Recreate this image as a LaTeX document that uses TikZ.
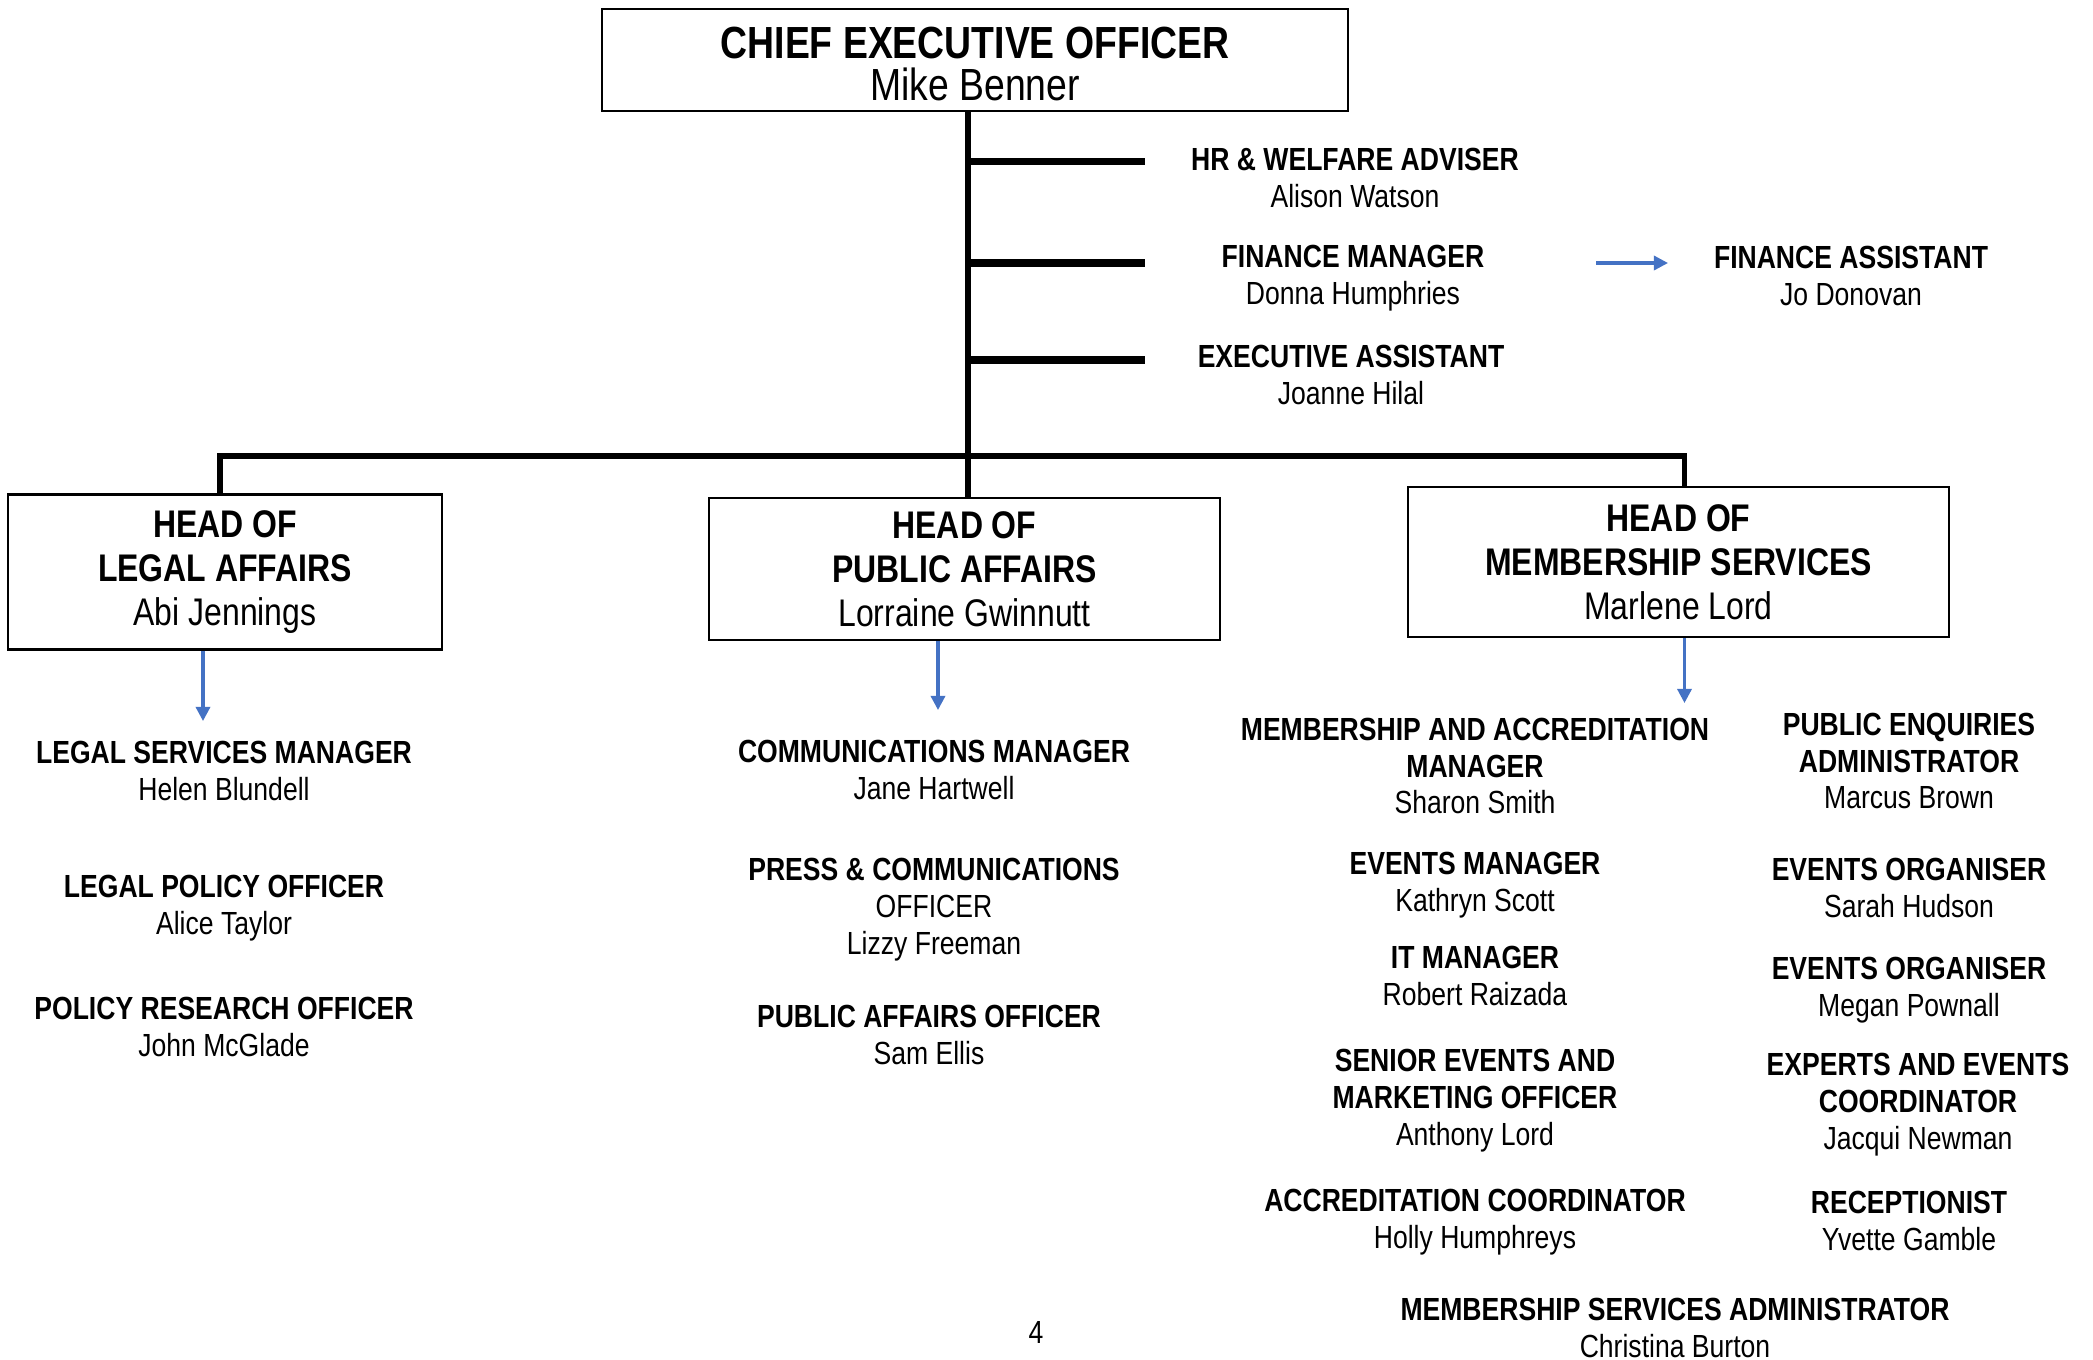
\documentclass[tikz,border=0pt]{standalone}
\usepackage{fontspec}
\setmainfont{Liberation Sans}[FakeStretch=0.83]
\usetikzlibrary{arrows.meta}
\definecolor{arrowblue}{RGB}{68,114,196}

\begin{document}
\begin{tikzpicture}[x=0.01cm, y=-0.01cm, >={Triangle[length=4pt,width=4pt]},
    box/.style={draw, line width=0.6pt, inner sep=0pt, align=center},
    headtext/.style={font=\fontsize{10.95}{12.5}\selectfont},
    post/.style={align=center, inner sep=0pt, font=\fontsize{9.1}{10.5}\selectfont},
    link/.style={line width=1.5pt},
    branch/.style={line width=2pt},
    bluearrow/.style={->, draw=arrowblue, line width=0.9pt}]
        \useasboundingbox (0,0) rectangle (2093,1360);
        % Nodes
        \node[box, minimum width=7.46cm, minimum height=1.02cm, font=\fontsize{12.8}{12.2}\selectfont] (ceo) at (975,60) {};
        \node[align=center, inner sep=0pt, font=\fontsize{12.8}{12.2}\selectfont] (ceotext) at (975,64) {\textbf{CHIEF EXECUTIVE OFFICER}\\Mike Benner};
        \node[post] (hr) at (1355,178) {\textbf{HR \& WELFARE ADVISER}\\Alison Watson};
        \node[post] (fm) at (1353,278) {\textbf{FINANCE MANAGER}\\Donna Humphries};
        \node[post] (fa) at (1851,276) {\textbf{FINANCE ASSISTANT}\\Jo Donovan};
        \node[post] (ea) at (1351,375) {\textbf{EXECUTIVE ASSISTANT}\\Joanne Hilal};
        \node[box, headtext, minimum width=4.34cm, minimum height=1.55cm] (legal) at (225,572) {\textbf{HEAD OF}\\\textbf{LEGAL AFFAIRS}\\Abi Jennings};
        \node[box, headtext, minimum width=5.11cm, minimum height=1.425cm] (public) at (964.5,569) {\textbf{HEAD OF}\\\textbf{PUBLIC AFFAIRS}\\Lorraine Gwinnutt};
        \node[box, headtext, minimum width=5.41cm, minimum height=1.5cm] (members) at (1678.5,562) {\textbf{HEAD OF}\\\textbf{MEMBERSHIP SERVICES}\\Marlene Lord};
        % legal affairs
        \node[post] (lsm) at (224,771) {\textbf{LEGAL SERVICES MANAGER}\\Helen Blundell};
        \node[post] (lpo) at (224,908) {\textbf{LEGAL POLICY OFFICER}\\Alice Taylor};
        \node[post] (pro) at (224,1027) {\textbf{POLICY RESEARCH OFFICER}\\John McGlade};
        % public affairs
        \node[post] (cm) at (934,770) {\textbf{COMMUNICATIONS MANAGER}\\Jane Hartwell};
        \node[post] (pco) at (934,910) {\textbf{PRESS \& COMMUNICATIONS}\\OFFICER\\Lizzy Freeman};
        \node[post] (pao) at (929,1035) {\textbf{PUBLIC AFFAIRS OFFICER}\\Sam Ellis};
        % membership services
        \node[post] (mam) at (1475,766) {\textbf{MEMBERSHIP AND ACCREDITATION}\\\textbf{MANAGER}\\Sharon Smith};
        \node[post] (evm) at (1475,885) {\textbf{EVENTS MANAGER}\\Kathryn Scott};
        \node[post] (itm) at (1475,976) {\textbf{IT MANAGER}\\Robert Raizada};
        \node[post] (semo) at (1475,1101) {\textbf{SENIOR EVENTS AND}\\\textbf{MARKETING OFFICER}\\Anthony Lord};
        \node[post] (acc) at (1475,1222) {\textbf{ACCREDITATION COORDINATOR}\\Holly Humphreys};
        \node[post] (pea) at (1909,761) {\textbf{PUBLIC ENQUIRIES}\\\textbf{ADMINISTRATOR}\\Marcus Brown};
        \node[post] (eoa) at (1909,888) {\textbf{EVENTS ORGANISER}\\Sarah Hudson};
        \node[post] (eob) at (1909,990) {\textbf{EVENTS ORGANISER}\\Megan Pownall};
        \node[post] (eec) at (1918,1105) {\textbf{EXPERTS AND EVENTS}\\\textbf{COORDINATOR}\\Jacqui Newman};
        \node[post] (rec) at (1909,1221) {\textbf{RECEPTIONIST}\\Yvette Gamble};
        \node[post] (msa) at (1675,1328) {\textbf{MEMBERSHIP SERVICES ADMINISTRATOR}\\Christina Burton};
        \node[post] (page) at (1036,1332) {4};
        % Coordinates
        \coordinate (trunk) at (968,456);
        \coordinate (legaldrop) at (220,456);
        \coordinate (membersdrop) at (1684.5,456);
        \coordinate (hrend) at (1145,161.5);
        \coordinate (fmend) at (1145,263);
        \coordinate (eaend) at (1145,360);
        \coordinate (fastart) at (1596,263);
        \coordinate (faend) at (1668,263);
        \coordinate (legaltip) at (203,721);
        \coordinate (publictip) at (938,710);
        \coordinate (memberstip) at (1684.5,703);
        % Lines
        \draw[link] (ceo.south -| trunk) -- (public.north -| trunk);
        \draw[branch] (hrend -| trunk) -- (hrend);
        \draw[branch] (fmend -| trunk) -- (fmend);
        \draw[branch] (eaend -| trunk) -- (eaend);
        \draw[link] (legal.north -| legaldrop) -- (legaldrop) -- (membersdrop) -- (members.north -| membersdrop);
        % Arrows
        \draw[bluearrow] (fastart) -- (faend);
        \draw[bluearrow] (legal.south -| legaltip) -- (legaltip);
        \draw[bluearrow] (public.south -| publictip) -- (publictip);
        \draw[bluearrow] (members.south -| memberstip) -- (memberstip);
    \end{tikzpicture}
\end{document}
